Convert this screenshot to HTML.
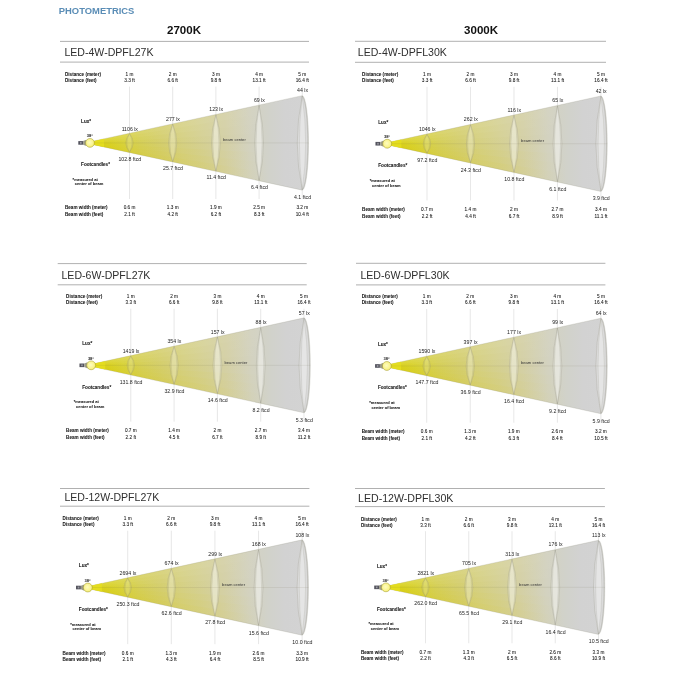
<!DOCTYPE html>
<html lang="en">
<head>
<meta charset="utf-8">
<title>Photometrics</title>
<style>
html,body{margin:0;padding:0;background:#fff;}
body{width:676px;height:676px;overflow:hidden;}
svg{display:block;font-family:"Liberation Sans",sans-serif;}
.b{font-weight:bold;fill:#161616;stroke:#161616;stroke-width:0.06;}
.s{fill:#111;stroke:#111;stroke-width:0.06;}
.c{fill:#333;}
.a{fill:#1a1a1a;font-weight:bold;}
.v{fill:#222;}
.vl{stroke:#c0c0c0;stroke-width:0.38;}
.cl{stroke:#6e6a50;stroke-width:0.35;stroke-opacity:0.3;}
.lens{fill:#fff;stroke:#8c8a7a;stroke-opacity:0.62;stroke-width:0.4;}
.lens2{fill:#fff;stroke:#8c8a7a;stroke-opacity:0.45;stroke-width:0.35;}
.lens3{fill:none;stroke:#8f8a6a;stroke-opacity:0.3;stroke-width:0.35;}
.rule{stroke:#9c9c9c;stroke-width:0.8;}
.title{fill:#2f2f2f;}
</style>
</head>
<body>
<svg width="676" height="676" viewBox="0 0 676 676">
<defs>
<linearGradient id="cone" gradientUnits="userSpaceOnUse" x1="85" y1="0" x2="308.5" y2="0">
<stop offset="0" stop-color="#dcd314"/>
<stop offset="0.094" stop-color="#d9d11e"/>
<stop offset="0.166" stop-color="#d8d238"/>
<stop offset="0.246" stop-color="#d5cf56"/>
<stop offset="0.353" stop-color="#d4ce70"/>
<stop offset="0.434" stop-color="#d5d082"/>
<stop offset="0.559" stop-color="#d4d09a"/>
<stop offset="0.626" stop-color="#d4d0a6"/>
<stop offset="0.738" stop-color="#d3d2c0"/>
<stop offset="0.828" stop-color="#d1d2cb"/>
<stop offset="0.895" stop-color="#d2d2d2"/>
<stop offset="1" stop-color="#d3d3d3"/>
</linearGradient>
<linearGradient id="shT" gradientUnits="userSpaceOnUse" x1="85" y1="0" x2="300" y2="0">
<stop offset="0" stop-color="#fff" stop-opacity="0.16"/>
<stop offset="0.55" stop-color="#fff" stop-opacity="0.12"/>
<stop offset="0.85" stop-color="#fff" stop-opacity="0"/>
</linearGradient>
<linearGradient id="shB" gradientUnits="userSpaceOnUse" x1="85" y1="0" x2="300" y2="0">
<stop offset="0" stop-color="#d6c400" stop-opacity="0.22"/>
<stop offset="0.55" stop-color="#d6c400" stop-opacity="0.16"/>
<stop offset="0.85" stop-color="#d6c400" stop-opacity="0"/>
</linearGradient>
<radialGradient id="bulb" cx="0.45" cy="0.45" r="0.6">
<stop offset="0" stop-color="#fefcc0"/>
<stop offset="0.65" stop-color="#faf48e"/>
<stop offset="1" stop-color="#f4ec68"/>
</radialGradient>
</defs>
<rect width="676" height="676" fill="#fff"/>
<text x="58.8" y="13.8" font-size="9.8" font-weight="bold" fill="#5a8db6" textLength="75.6" lengthAdjust="spacingAndGlyphs">PHOTOMETRICS</text>
<text x="167" y="34" font-size="11.2" font-weight="bold" fill="#111" textLength="34" lengthAdjust="spacingAndGlyphs">2700K</text>
<text x="464.1" y="33.7" font-size="11.2" font-weight="bold" fill="#111" textLength="34" lengthAdjust="spacingAndGlyphs">3000K</text>

<line x1="60" y1="41.4" x2="309" y2="41.4" class="rule"/>
<line x1="60" y1="62.1" x2="309" y2="62.1" class="rule"/>
<text x="64.4" y="56.3" font-size="10.75" class="title" textLength="89.1" lengthAdjust="spacingAndGlyphs">LED-4W-DPFL27K</text>
<g transform="matrix(1.0000 0 0 1.0000 0.00 0.00)">
<line x1="129.5" y1="86.6" x2="129.5" y2="199" class="vl"/>
<line x1="172.7" y1="86.6" x2="172.7" y2="199" class="vl"/>
<line x1="215.9" y1="86.6" x2="215.9" y2="199" class="vl"/>
<line x1="259.1" y1="86.6" x2="259.1" y2="199" class="vl"/>
<line x1="302.25" y1="86.6" x2="302.25" y2="199" class="vl"/>
<path d="M85.0 142.9 L302.25 95.65 A6.3 47.25 0 0 1 302.25 190.15 Z" fill="url(#cone)" stroke="#8c8a7a" stroke-opacity="0.6" stroke-width="0.35"/>
<path d="M85.0 142.9 L300.0 142.9 L300.0 131.21 Z" fill="url(#shT)" fill-opacity="0.12"/>
<path d="M85.0 142.9 L300.0 142.9 L300.0 154.59 Z" fill="url(#shB)" fill-opacity="0.12"/>
<path d="M85.0 142.9 L300.0 131.21 L300.0 119.52 Z" fill="url(#shT)" fill-opacity="0.38"/>
<path d="M85.0 142.9 L300.0 154.59 L300.0 166.28 Z" fill="url(#shB)" fill-opacity="0.38"/>
<path d="M85.0 142.9 L300.0 119.52 L300.0 107.83 Z" fill="url(#shT)" fill-opacity="0.62"/>
<path d="M85.0 142.9 L300.0 166.28 L300.0 177.97 Z" fill="url(#shB)" fill-opacity="0.62"/>
<path d="M85.0 142.9 L300.0 107.83 L300.0 96.14 Z" fill="url(#shT)" fill-opacity="0.88"/>
<path d="M85.0 142.9 L300.0 177.97 L300.0 189.66 Z" fill="url(#shB)" fill-opacity="0.88"/>
<path d="M85.0 142.9 L104.0 138.77 L104.0 147.03 Z" fill="#e4de1e" fill-opacity="0.9"/>
<path d="M129.5 133.62 Q122.1 142.9 129.5 152.18 Q136.9 142.9 129.5 133.62 Z" class="lens" fill-opacity="0.07"/>
<path d="M129.5 133.62 Q124.47 142.9 129.5 152.18 Q134.53 142.9 129.5 133.62 Z" class="lens2" fill-opacity="0.10"/>
<path d="M172.7 124.23 Q164.5 142.9 172.7 161.57 Q180.9 142.9 172.7 124.23 Z" class="lens" fill-opacity="0.13"/>
<path d="M172.7 124.23 Q167.12 142.9 172.7 161.57 Q178.28 142.9 172.7 124.23 Z" class="lens2" fill-opacity="0.18"/>
<path d="M215.9 114.83 Q207.1 142.9 215.9 170.97 Q224.7 142.9 215.9 114.83 Z" class="lens" fill-opacity="0.20"/>
<path d="M215.9 114.83 Q209.92 142.9 215.9 170.97 Q221.88 142.9 215.9 114.83 Z" class="lens2" fill-opacity="0.28"/>
<path d="M259.1 105.43 Q250.3 142.9 259.1 180.37 Q267.9 142.9 259.1 105.43 Z" class="lens" fill-opacity="0.20"/>
<path d="M259.1 105.43 Q253.12 142.9 259.1 180.37 Q265.08 142.9 259.1 105.43 Z" class="lens2" fill-opacity="0.28"/>
<path d="M302.25 96.05 Q292.25 142.9 302.25 189.75 A6.3 47.25 0 0 0 302.25 96.05 Z" class="lens" fill-opacity="0.20"/>
<path d="M302.25 96.05 Q296.65 142.9 302.25 189.75 Q309.05 142.9 302.25 96.05 Z" class="lens2" fill-opacity="0.28"/>
<line x1="94" y1="142.9" x2="308.6" y2="142.9" class="cl"/>
<rect x="78.3" y="141.1" width="4.8" height="3.6" fill="#54545e"/>
<rect x="80.0" y="142.0" width="1.6" height="1.8" fill="#9a9aa0"/>
<path d="M83.1 141.1 L86.4 139.8 L86.4 146.0 L83.1 144.7 Z" fill="#9c9b88"/>
<circle cx="90" cy="142.9" r="4.4" fill="url(#bulb)" stroke="#9c9428" stroke-width="0.5"/>
<text x="65" y="75.85" font-size="4.6" class="b">Distance (meter)</text>
<text x="65" y="82.05" font-size="4.6" class="b">Distance (feet)</text>
<text x="81.1" y="123.05" font-size="4.6" class="b">Lux*</text>
<text x="86.7" y="137.13" font-size="4.0" class="a">38°</text>
<text x="81.1" y="166.15" font-size="4.6" class="b">Footcandles*</text>
<text x="72.6" y="180.73" font-size="4.0" class="b">*measured at</text>
<text x="74.8" y="185.43" font-size="4.0" class="b">center of beam</text>
<text x="65" y="209.45" font-size="4.6" class="b">Beam width (meter)</text>
<text x="65" y="216.15" font-size="4.6" class="b">Beam width (feet)</text>
<text x="223" y="141.37" font-size="4.1" class="c">beam center</text>
<text x="129.5" y="75.88" font-size="4.7" text-anchor="middle" class="s">1 m</text>
<text x="129.5" y="81.98" font-size="4.7" text-anchor="middle" class="s">3.3 ft</text>
<text x="129.8" y="130.56" font-size="5.2" text-anchor="middle" class="v">1106 lx</text>
<text x="129.8" y="161.06" font-size="5.2" text-anchor="middle" class="v">102.8 ftcd</text>
<text x="129.5" y="209.48" font-size="4.7" text-anchor="middle" class="s">0.6 m</text>
<text x="129.5" y="216.18" font-size="4.7" text-anchor="middle" class="s">2.1 ft</text>
<text x="172.7" y="75.88" font-size="4.7" text-anchor="middle" class="s">2 m</text>
<text x="172.7" y="81.98" font-size="4.7" text-anchor="middle" class="s">6.6 ft</text>
<text x="173" y="120.86" font-size="5.2" text-anchor="middle" class="v">277 lx</text>
<text x="173" y="170.46" font-size="5.2" text-anchor="middle" class="v">25.7 ftcd</text>
<text x="172.7" y="209.48" font-size="4.7" text-anchor="middle" class="s">1.3 m</text>
<text x="172.7" y="216.18" font-size="4.7" text-anchor="middle" class="s">4.2 ft</text>
<text x="215.9" y="75.88" font-size="4.7" text-anchor="middle" class="s">3 m</text>
<text x="215.9" y="81.98" font-size="4.7" text-anchor="middle" class="s">9.8 ft</text>
<text x="216.2" y="111.36" font-size="5.2" text-anchor="middle" class="v">123 lx</text>
<text x="216.2" y="179.46" font-size="5.2" text-anchor="middle" class="v">11.4 ftcd</text>
<text x="215.9" y="209.48" font-size="4.7" text-anchor="middle" class="s">1.9 m</text>
<text x="215.9" y="216.18" font-size="4.7" text-anchor="middle" class="s">6.2 ft</text>
<text x="259.1" y="75.88" font-size="4.7" text-anchor="middle" class="s">4 m</text>
<text x="259.1" y="81.98" font-size="4.7" text-anchor="middle" class="s">13.1 ft</text>
<text x="259.4" y="101.76" font-size="5.2" text-anchor="middle" class="v">69 lx</text>
<text x="259.4" y="189.46" font-size="5.2" text-anchor="middle" class="v">6.4 ftcd</text>
<text x="259.1" y="209.48" font-size="4.7" text-anchor="middle" class="s">2.5 m</text>
<text x="259.1" y="216.18" font-size="4.7" text-anchor="middle" class="s">8.3 ft</text>
<text x="302.25" y="75.88" font-size="4.7" text-anchor="middle" class="s">5 m</text>
<text x="302.25" y="81.98" font-size="4.7" text-anchor="middle" class="s">16.4 ft</text>
<text x="302.55" y="92.46" font-size="5.2" text-anchor="middle" class="v">44 lx</text>
<text x="302.55" y="198.86" font-size="5.2" text-anchor="middle" class="v">4.1 ftcd</text>
<text x="302.25" y="209.48" font-size="4.7" text-anchor="middle" class="s">3.2 m</text>
<text x="302.25" y="216.18" font-size="4.7" text-anchor="middle" class="s">10.4 ft</text>
</g>
<line x1="57.7" y1="263.6" x2="306.7" y2="263.6" class="rule"/>
<line x1="57.7" y1="284.8" x2="306.7" y2="284.8" class="rule"/>
<text x="61.5" y="279.4" font-size="10.75" class="title" textLength="88.9" lengthAdjust="spacingAndGlyphs">LED-6W-DPFL27K</text>
<g transform="matrix(1.0026 0 0 1.0045 0.96 221.77)">
<line x1="129.5" y1="86.6" x2="129.5" y2="199" class="vl"/>
<line x1="172.7" y1="86.6" x2="172.7" y2="199" class="vl"/>
<line x1="215.9" y1="86.6" x2="215.9" y2="199" class="vl"/>
<line x1="259.1" y1="86.6" x2="259.1" y2="199" class="vl"/>
<line x1="302.25" y1="86.6" x2="302.25" y2="199" class="vl"/>
<path d="M85.0 142.9 L302.25 95.65 A6.3 47.25 0 0 1 302.25 190.15 Z" fill="url(#cone)" stroke="#8c8a7a" stroke-opacity="0.6" stroke-width="0.35"/>
<path d="M85.0 142.9 L300.0 142.9 L300.0 131.21 Z" fill="url(#shT)" fill-opacity="0.12"/>
<path d="M85.0 142.9 L300.0 142.9 L300.0 154.59 Z" fill="url(#shB)" fill-opacity="0.12"/>
<path d="M85.0 142.9 L300.0 131.21 L300.0 119.52 Z" fill="url(#shT)" fill-opacity="0.38"/>
<path d="M85.0 142.9 L300.0 154.59 L300.0 166.28 Z" fill="url(#shB)" fill-opacity="0.38"/>
<path d="M85.0 142.9 L300.0 119.52 L300.0 107.83 Z" fill="url(#shT)" fill-opacity="0.62"/>
<path d="M85.0 142.9 L300.0 166.28 L300.0 177.97 Z" fill="url(#shB)" fill-opacity="0.62"/>
<path d="M85.0 142.9 L300.0 107.83 L300.0 96.14 Z" fill="url(#shT)" fill-opacity="0.88"/>
<path d="M85.0 142.9 L300.0 177.97 L300.0 189.66 Z" fill="url(#shB)" fill-opacity="0.88"/>
<path d="M85.0 142.9 L104.0 138.77 L104.0 147.03 Z" fill="#e4de1e" fill-opacity="0.9"/>
<path d="M129.5 133.62 Q122.1 142.9 129.5 152.18 Q136.9 142.9 129.5 133.62 Z" class="lens" fill-opacity="0.07"/>
<path d="M129.5 133.62 Q124.47 142.9 129.5 152.18 Q134.53 142.9 129.5 133.62 Z" class="lens2" fill-opacity="0.10"/>
<path d="M172.7 124.23 Q164.5 142.9 172.7 161.57 Q180.9 142.9 172.7 124.23 Z" class="lens" fill-opacity="0.13"/>
<path d="M172.7 124.23 Q167.12 142.9 172.7 161.57 Q178.28 142.9 172.7 124.23 Z" class="lens2" fill-opacity="0.18"/>
<path d="M215.9 114.83 Q207.1 142.9 215.9 170.97 Q224.7 142.9 215.9 114.83 Z" class="lens" fill-opacity="0.20"/>
<path d="M215.9 114.83 Q209.92 142.9 215.9 170.97 Q221.88 142.9 215.9 114.83 Z" class="lens2" fill-opacity="0.28"/>
<path d="M259.1 105.43 Q250.3 142.9 259.1 180.37 Q267.9 142.9 259.1 105.43 Z" class="lens" fill-opacity="0.20"/>
<path d="M259.1 105.43 Q253.12 142.9 259.1 180.37 Q265.08 142.9 259.1 105.43 Z" class="lens2" fill-opacity="0.28"/>
<path d="M302.25 96.05 Q292.25 142.9 302.25 189.75 A6.3 47.25 0 0 0 302.25 96.05 Z" class="lens" fill-opacity="0.20"/>
<path d="M302.25 96.05 Q296.65 142.9 302.25 189.75 Q309.05 142.9 302.25 96.05 Z" class="lens2" fill-opacity="0.28"/>
<line x1="94" y1="142.9" x2="308.6" y2="142.9" class="cl"/>
<rect x="78.3" y="141.1" width="4.8" height="3.6" fill="#54545e"/>
<rect x="80.0" y="142.0" width="1.6" height="1.8" fill="#9a9aa0"/>
<path d="M83.1 141.1 L86.4 139.8 L86.4 146.0 L83.1 144.7 Z" fill="#9c9b88"/>
<circle cx="90" cy="142.9" r="4.4" fill="url(#bulb)" stroke="#9c9428" stroke-width="0.5"/>
<text x="65" y="75.85" font-size="4.6" class="b">Distance (meter)</text>
<text x="65" y="82.05" font-size="4.6" class="b">Distance (feet)</text>
<text x="81.1" y="123.05" font-size="4.6" class="b">Lux*</text>
<text x="86.7" y="137.13" font-size="4.0" class="a">38°</text>
<text x="81.1" y="166.15" font-size="4.6" class="b">Footcandles*</text>
<text x="72.6" y="180.73" font-size="4.0" class="b">*measured at</text>
<text x="74.8" y="185.43" font-size="4.0" class="b">center of beam</text>
<text x="65" y="209.45" font-size="4.6" class="b">Beam width (meter)</text>
<text x="65" y="216.15" font-size="4.6" class="b">Beam width (feet)</text>
<text x="223" y="141.37" font-size="4.1" class="c">beam center</text>
<text x="129.5" y="75.88" font-size="4.7" text-anchor="middle" class="s">1 m</text>
<text x="129.5" y="81.98" font-size="4.7" text-anchor="middle" class="s">3.3 ft</text>
<text x="129.8" y="130.56" font-size="5.2" text-anchor="middle" class="v">1419 lx</text>
<text x="129.8" y="161.06" font-size="5.2" text-anchor="middle" class="v">131.8 ftcd</text>
<text x="129.5" y="209.48" font-size="4.7" text-anchor="middle" class="s">0.7 m</text>
<text x="129.5" y="216.18" font-size="4.7" text-anchor="middle" class="s">2.2 ft</text>
<text x="172.7" y="75.88" font-size="4.7" text-anchor="middle" class="s">2 m</text>
<text x="172.7" y="81.98" font-size="4.7" text-anchor="middle" class="s">6.6 ft</text>
<text x="173" y="120.86" font-size="5.2" text-anchor="middle" class="v">354 lx</text>
<text x="173" y="170.46" font-size="5.2" text-anchor="middle" class="v">32.9 ftcd</text>
<text x="172.7" y="209.48" font-size="4.7" text-anchor="middle" class="s">1.4 m</text>
<text x="172.7" y="216.18" font-size="4.7" text-anchor="middle" class="s">4.5 ft</text>
<text x="215.9" y="75.88" font-size="4.7" text-anchor="middle" class="s">3 m</text>
<text x="215.9" y="81.98" font-size="4.7" text-anchor="middle" class="s">9.8 ft</text>
<text x="216.2" y="111.36" font-size="5.2" text-anchor="middle" class="v">157 lx</text>
<text x="216.2" y="179.46" font-size="5.2" text-anchor="middle" class="v">14.6 ftcd</text>
<text x="215.9" y="209.48" font-size="4.7" text-anchor="middle" class="s">2 m</text>
<text x="215.9" y="216.18" font-size="4.7" text-anchor="middle" class="s">6.7 ft</text>
<text x="259.1" y="75.88" font-size="4.7" text-anchor="middle" class="s">4 m</text>
<text x="259.1" y="81.98" font-size="4.7" text-anchor="middle" class="s">13.1 ft</text>
<text x="259.4" y="101.76" font-size="5.2" text-anchor="middle" class="v">88 lx</text>
<text x="259.4" y="189.46" font-size="5.2" text-anchor="middle" class="v">8.2 ftcd</text>
<text x="259.1" y="209.48" font-size="4.7" text-anchor="middle" class="s">2.7 m</text>
<text x="259.1" y="216.18" font-size="4.7" text-anchor="middle" class="s">8.9 ft</text>
<text x="302.25" y="75.88" font-size="4.7" text-anchor="middle" class="s">5 m</text>
<text x="302.25" y="81.98" font-size="4.7" text-anchor="middle" class="s">16.4 ft</text>
<text x="302.55" y="92.46" font-size="5.2" text-anchor="middle" class="v">57 lx</text>
<text x="302.55" y="198.86" font-size="5.2" text-anchor="middle" class="v">5.3 ftcd</text>
<text x="302.25" y="209.48" font-size="4.7" text-anchor="middle" class="s">3.4 m</text>
<text x="302.25" y="216.18" font-size="4.7" text-anchor="middle" class="s">11.2 ft</text>
</g>
<line x1="60" y1="488.5" x2="309.4" y2="488.5" class="rule"/>
<line x1="60" y1="506.2" x2="309.4" y2="506.2" class="rule"/>
<text x="64.4" y="501.3" font-size="10.75" class="title" textLength="94.8" lengthAdjust="spacingAndGlyphs">LED-12W-DPFL27K</text>
<g transform="matrix(1.0096 0 0 1.0090 -3.04 443.34)">
<line x1="129.5" y1="86.6" x2="129.5" y2="199" class="vl"/>
<line x1="172.7" y1="86.6" x2="172.7" y2="199" class="vl"/>
<line x1="215.9" y1="86.6" x2="215.9" y2="199" class="vl"/>
<line x1="259.1" y1="86.6" x2="259.1" y2="199" class="vl"/>
<line x1="302.25" y1="86.6" x2="302.25" y2="199" class="vl"/>
<path d="M85.0 142.9 L302.25 95.65 A6.3 47.25 0 0 1 302.25 190.15 Z" fill="url(#cone)" stroke="#8c8a7a" stroke-opacity="0.6" stroke-width="0.35"/>
<path d="M85.0 142.9 L300.0 142.9 L300.0 131.21 Z" fill="url(#shT)" fill-opacity="0.12"/>
<path d="M85.0 142.9 L300.0 142.9 L300.0 154.59 Z" fill="url(#shB)" fill-opacity="0.12"/>
<path d="M85.0 142.9 L300.0 131.21 L300.0 119.52 Z" fill="url(#shT)" fill-opacity="0.38"/>
<path d="M85.0 142.9 L300.0 154.59 L300.0 166.28 Z" fill="url(#shB)" fill-opacity="0.38"/>
<path d="M85.0 142.9 L300.0 119.52 L300.0 107.83 Z" fill="url(#shT)" fill-opacity="0.62"/>
<path d="M85.0 142.9 L300.0 166.28 L300.0 177.97 Z" fill="url(#shB)" fill-opacity="0.62"/>
<path d="M85.0 142.9 L300.0 107.83 L300.0 96.14 Z" fill="url(#shT)" fill-opacity="0.88"/>
<path d="M85.0 142.9 L300.0 177.97 L300.0 189.66 Z" fill="url(#shB)" fill-opacity="0.88"/>
<path d="M85.0 142.9 L104.0 138.77 L104.0 147.03 Z" fill="#e4de1e" fill-opacity="0.9"/>
<path d="M129.5 133.62 Q122.1 142.9 129.5 152.18 Q136.9 142.9 129.5 133.62 Z" class="lens" fill-opacity="0.07"/>
<path d="M129.5 133.62 Q124.47 142.9 129.5 152.18 Q134.53 142.9 129.5 133.62 Z" class="lens2" fill-opacity="0.10"/>
<path d="M172.7 124.23 Q164.5 142.9 172.7 161.57 Q180.9 142.9 172.7 124.23 Z" class="lens" fill-opacity="0.13"/>
<path d="M172.7 124.23 Q167.12 142.9 172.7 161.57 Q178.28 142.9 172.7 124.23 Z" class="lens2" fill-opacity="0.18"/>
<path d="M215.9 114.83 Q207.1 142.9 215.9 170.97 Q224.7 142.9 215.9 114.83 Z" class="lens" fill-opacity="0.20"/>
<path d="M215.9 114.83 Q209.92 142.9 215.9 170.97 Q221.88 142.9 215.9 114.83 Z" class="lens2" fill-opacity="0.28"/>
<path d="M259.1 105.43 Q250.3 142.9 259.1 180.37 Q267.9 142.9 259.1 105.43 Z" class="lens" fill-opacity="0.20"/>
<path d="M259.1 105.43 Q253.12 142.9 259.1 180.37 Q265.08 142.9 259.1 105.43 Z" class="lens2" fill-opacity="0.28"/>
<path d="M302.25 96.05 Q292.25 142.9 302.25 189.75 A6.3 47.25 0 0 0 302.25 96.05 Z" class="lens" fill-opacity="0.20"/>
<path d="M302.25 96.05 Q296.65 142.9 302.25 189.75 Q309.05 142.9 302.25 96.05 Z" class="lens2" fill-opacity="0.28"/>
<line x1="94" y1="142.9" x2="308.6" y2="142.9" class="cl"/>
<rect x="78.3" y="141.1" width="4.8" height="3.6" fill="#54545e"/>
<rect x="80.0" y="142.0" width="1.6" height="1.8" fill="#9a9aa0"/>
<path d="M83.1 141.1 L86.4 139.8 L86.4 146.0 L83.1 144.7 Z" fill="#9c9b88"/>
<circle cx="90" cy="142.9" r="4.4" fill="url(#bulb)" stroke="#9c9428" stroke-width="0.5"/>
<text x="65" y="75.85" font-size="4.6" class="b">Distance (meter)</text>
<text x="65" y="82.05" font-size="4.6" class="b">Distance (feet)</text>
<text x="81.1" y="123.05" font-size="4.6" class="b">Lux*</text>
<text x="86.7" y="137.13" font-size="4.0" class="a">38°</text>
<text x="81.1" y="166.15" font-size="4.6" class="b">Footcandles*</text>
<text x="72.6" y="180.73" font-size="4.0" class="b">*measured at</text>
<text x="74.8" y="185.43" font-size="4.0" class="b">center of beam</text>
<text x="65" y="209.45" font-size="4.6" class="b">Beam width (meter)</text>
<text x="65" y="216.15" font-size="4.6" class="b">Beam width (feet)</text>
<text x="223" y="141.37" font-size="4.1" class="c">beam center</text>
<text x="129.5" y="75.88" font-size="4.7" text-anchor="middle" class="s">1 m</text>
<text x="129.5" y="81.98" font-size="4.7" text-anchor="middle" class="s">3.3 ft</text>
<text x="129.8" y="130.56" font-size="5.2" text-anchor="middle" class="v">2694 lx</text>
<text x="129.8" y="161.06" font-size="5.2" text-anchor="middle" class="v">250.3 ftcd</text>
<text x="129.5" y="209.48" font-size="4.7" text-anchor="middle" class="s">0.6 m</text>
<text x="129.5" y="216.18" font-size="4.7" text-anchor="middle" class="s">2.1 ft</text>
<text x="172.7" y="75.88" font-size="4.7" text-anchor="middle" class="s">2 m</text>
<text x="172.7" y="81.98" font-size="4.7" text-anchor="middle" class="s">6.6 ft</text>
<text x="173" y="120.86" font-size="5.2" text-anchor="middle" class="v">674 lx</text>
<text x="173" y="170.46" font-size="5.2" text-anchor="middle" class="v">62.6 ftcd</text>
<text x="172.7" y="209.48" font-size="4.7" text-anchor="middle" class="s">1.3 m</text>
<text x="172.7" y="216.18" font-size="4.7" text-anchor="middle" class="s">4.3 ft</text>
<text x="215.9" y="75.88" font-size="4.7" text-anchor="middle" class="s">3 m</text>
<text x="215.9" y="81.98" font-size="4.7" text-anchor="middle" class="s">9.8 ft</text>
<text x="216.2" y="111.36" font-size="5.2" text-anchor="middle" class="v">299 lx</text>
<text x="216.2" y="179.46" font-size="5.2" text-anchor="middle" class="v">27.8 ftcd</text>
<text x="215.9" y="209.48" font-size="4.7" text-anchor="middle" class="s">1.9 m</text>
<text x="215.9" y="216.18" font-size="4.7" text-anchor="middle" class="s">6.4 ft</text>
<text x="259.1" y="75.88" font-size="4.7" text-anchor="middle" class="s">4 m</text>
<text x="259.1" y="81.98" font-size="4.7" text-anchor="middle" class="s">13.1 ft</text>
<text x="259.4" y="101.76" font-size="5.2" text-anchor="middle" class="v">168 lx</text>
<text x="259.4" y="189.46" font-size="5.2" text-anchor="middle" class="v">15.6 ftcd</text>
<text x="259.1" y="209.48" font-size="4.7" text-anchor="middle" class="s">2.6 m</text>
<text x="259.1" y="216.18" font-size="4.7" text-anchor="middle" class="s">8.5 ft</text>
<text x="302.25" y="75.88" font-size="4.7" text-anchor="middle" class="s">5 m</text>
<text x="302.25" y="81.98" font-size="4.7" text-anchor="middle" class="s">16.4 ft</text>
<text x="302.55" y="92.46" font-size="5.2" text-anchor="middle" class="v">108 lx</text>
<text x="302.55" y="198.86" font-size="5.2" text-anchor="middle" class="v">10.0 ftcd</text>
<text x="302.25" y="209.48" font-size="4.7" text-anchor="middle" class="s">3.3 m</text>
<text x="302.25" y="216.18" font-size="4.7" text-anchor="middle" class="s">10.9 ft</text>
</g>
<line x1="355" y1="41.3" x2="606" y2="41.3" class="rule"/>
<line x1="355" y1="62.3" x2="606" y2="62.3" class="rule"/>
<text x="357.8" y="56.0" font-size="10.75" class="title" textLength="89.1" lengthAdjust="spacingAndGlyphs">LED-4W-DPFL30K</text>
<g transform="matrix(1.0067 0 0 1.0105 296.64 -0.67)">
<line x1="129.5" y1="86.6" x2="129.5" y2="199" class="vl"/>
<line x1="172.7" y1="86.6" x2="172.7" y2="199" class="vl"/>
<line x1="215.9" y1="86.6" x2="215.9" y2="199" class="vl"/>
<line x1="259.1" y1="86.6" x2="259.1" y2="199" class="vl"/>
<line x1="302.25" y1="86.6" x2="302.25" y2="199" class="vl"/>
<path d="M85.0 142.9 L302.25 95.65 A6.3 47.25 0 0 1 302.25 190.15 Z" fill="url(#cone)" stroke="#8c8a7a" stroke-opacity="0.6" stroke-width="0.35"/>
<path d="M85.0 142.9 L300.0 142.9 L300.0 131.21 Z" fill="url(#shT)" fill-opacity="0.12"/>
<path d="M85.0 142.9 L300.0 142.9 L300.0 154.59 Z" fill="url(#shB)" fill-opacity="0.12"/>
<path d="M85.0 142.9 L300.0 131.21 L300.0 119.52 Z" fill="url(#shT)" fill-opacity="0.38"/>
<path d="M85.0 142.9 L300.0 154.59 L300.0 166.28 Z" fill="url(#shB)" fill-opacity="0.38"/>
<path d="M85.0 142.9 L300.0 119.52 L300.0 107.83 Z" fill="url(#shT)" fill-opacity="0.62"/>
<path d="M85.0 142.9 L300.0 166.28 L300.0 177.97 Z" fill="url(#shB)" fill-opacity="0.62"/>
<path d="M85.0 142.9 L300.0 107.83 L300.0 96.14 Z" fill="url(#shT)" fill-opacity="0.88"/>
<path d="M85.0 142.9 L300.0 177.97 L300.0 189.66 Z" fill="url(#shB)" fill-opacity="0.88"/>
<path d="M85.0 142.9 L104.0 138.77 L104.0 147.03 Z" fill="#e4de1e" fill-opacity="0.9"/>
<path d="M129.5 133.62 Q122.1 142.9 129.5 152.18 Q136.9 142.9 129.5 133.62 Z" class="lens" fill-opacity="0.07"/>
<path d="M129.5 133.62 Q124.47 142.9 129.5 152.18 Q134.53 142.9 129.5 133.62 Z" class="lens2" fill-opacity="0.10"/>
<path d="M172.7 124.23 Q164.5 142.9 172.7 161.57 Q180.9 142.9 172.7 124.23 Z" class="lens" fill-opacity="0.13"/>
<path d="M172.7 124.23 Q167.12 142.9 172.7 161.57 Q178.28 142.9 172.7 124.23 Z" class="lens2" fill-opacity="0.18"/>
<path d="M215.9 114.83 Q207.1 142.9 215.9 170.97 Q224.7 142.9 215.9 114.83 Z" class="lens" fill-opacity="0.20"/>
<path d="M215.9 114.83 Q209.92 142.9 215.9 170.97 Q221.88 142.9 215.9 114.83 Z" class="lens2" fill-opacity="0.28"/>
<path d="M259.1 105.43 Q250.3 142.9 259.1 180.37 Q267.9 142.9 259.1 105.43 Z" class="lens" fill-opacity="0.20"/>
<path d="M259.1 105.43 Q253.12 142.9 259.1 180.37 Q265.08 142.9 259.1 105.43 Z" class="lens2" fill-opacity="0.28"/>
<path d="M302.25 96.05 Q292.25 142.9 302.25 189.75 A6.3 47.25 0 0 0 302.25 96.05 Z" class="lens" fill-opacity="0.20"/>
<path d="M302.25 96.05 Q296.65 142.9 302.25 189.75 Q309.05 142.9 302.25 96.05 Z" class="lens2" fill-opacity="0.28"/>
<line x1="94" y1="142.9" x2="308.6" y2="142.9" class="cl"/>
<rect x="78.3" y="141.1" width="4.8" height="3.6" fill="#54545e"/>
<rect x="80.0" y="142.0" width="1.6" height="1.8" fill="#9a9aa0"/>
<path d="M83.1 141.1 L86.4 139.8 L86.4 146.0 L83.1 144.7 Z" fill="#9c9b88"/>
<circle cx="90" cy="142.9" r="4.4" fill="url(#bulb)" stroke="#9c9428" stroke-width="0.5"/>
<text x="65" y="75.85" font-size="4.6" class="b">Distance (meter)</text>
<text x="65" y="82.05" font-size="4.6" class="b">Distance (feet)</text>
<text x="81.1" y="123.05" font-size="4.6" class="b">Lux*</text>
<text x="86.7" y="137.13" font-size="4.0" class="a">38°</text>
<text x="81.1" y="166.15" font-size="4.6" class="b">Footcandles*</text>
<text x="72.6" y="180.73" font-size="4.0" class="b">*measured at</text>
<text x="74.8" y="185.43" font-size="4.0" class="b">center of beam</text>
<text x="65" y="209.45" font-size="4.6" class="b">Beam width (meter)</text>
<text x="65" y="216.15" font-size="4.6" class="b">Beam width (feet)</text>
<text x="223" y="141.37" font-size="4.1" class="c">beam center</text>
<text x="129.5" y="75.88" font-size="4.7" text-anchor="middle" class="s">1 m</text>
<text x="129.5" y="81.98" font-size="4.7" text-anchor="middle" class="s">3.3 ft</text>
<text x="129.8" y="130.56" font-size="5.2" text-anchor="middle" class="v">1046 lx</text>
<text x="129.8" y="161.06" font-size="5.2" text-anchor="middle" class="v">97.2 ftcd</text>
<text x="129.5" y="209.48" font-size="4.7" text-anchor="middle" class="s">0.7 m</text>
<text x="129.5" y="216.18" font-size="4.7" text-anchor="middle" class="s">2.2 ft</text>
<text x="172.7" y="75.88" font-size="4.7" text-anchor="middle" class="s">2 m</text>
<text x="172.7" y="81.98" font-size="4.7" text-anchor="middle" class="s">6.6 ft</text>
<text x="173" y="120.86" font-size="5.2" text-anchor="middle" class="v">262 lx</text>
<text x="173" y="170.46" font-size="5.2" text-anchor="middle" class="v">24.3 ftcd</text>
<text x="172.7" y="209.48" font-size="4.7" text-anchor="middle" class="s">1.4 m</text>
<text x="172.7" y="216.18" font-size="4.7" text-anchor="middle" class="s">4.4 ft</text>
<text x="215.9" y="75.88" font-size="4.7" text-anchor="middle" class="s">3 m</text>
<text x="215.9" y="81.98" font-size="4.7" text-anchor="middle" class="s">9.8 ft</text>
<text x="216.2" y="111.36" font-size="5.2" text-anchor="middle" class="v">116 lx</text>
<text x="216.2" y="179.46" font-size="5.2" text-anchor="middle" class="v">10.8 ftcd</text>
<text x="215.9" y="209.48" font-size="4.7" text-anchor="middle" class="s">2 m</text>
<text x="215.9" y="216.18" font-size="4.7" text-anchor="middle" class="s">6.7 ft</text>
<text x="259.1" y="75.88" font-size="4.7" text-anchor="middle" class="s">4 m</text>
<text x="259.1" y="81.98" font-size="4.7" text-anchor="middle" class="s">13.1 ft</text>
<text x="259.4" y="101.76" font-size="5.2" text-anchor="middle" class="v">65 lx</text>
<text x="259.4" y="189.46" font-size="5.2" text-anchor="middle" class="v">6.1 ftcd</text>
<text x="259.1" y="209.48" font-size="4.7" text-anchor="middle" class="s">2.7 m</text>
<text x="259.1" y="216.18" font-size="4.7" text-anchor="middle" class="s">8.9 ft</text>
<text x="302.25" y="75.88" font-size="4.7" text-anchor="middle" class="s">5 m</text>
<text x="302.25" y="81.98" font-size="4.7" text-anchor="middle" class="s">16.4 ft</text>
<text x="302.55" y="92.46" font-size="5.2" text-anchor="middle" class="v">42 lx</text>
<text x="302.55" y="198.86" font-size="5.2" text-anchor="middle" class="v">3.9 ftcd</text>
<text x="302.25" y="209.48" font-size="4.7" text-anchor="middle" class="s">3.4 m</text>
<text x="302.25" y="216.18" font-size="4.7" text-anchor="middle" class="s">11.1 ft</text>
</g>
<line x1="356.0" y1="263.3" x2="605.4" y2="263.3" class="rule"/>
<line x1="356.0" y1="284.9" x2="605.4" y2="284.9" class="rule"/>
<text x="360.4" y="279.4" font-size="10.75" class="title" textLength="89.2" lengthAdjust="spacingAndGlyphs">LED-6W-DPFL30K</text>
<g transform="matrix(1.0084 0 0 1.0112 296.11 221.47)">
<line x1="129.5" y1="86.6" x2="129.5" y2="199" class="vl"/>
<line x1="172.7" y1="86.6" x2="172.7" y2="199" class="vl"/>
<line x1="215.9" y1="86.6" x2="215.9" y2="199" class="vl"/>
<line x1="259.1" y1="86.6" x2="259.1" y2="199" class="vl"/>
<line x1="302.25" y1="86.6" x2="302.25" y2="199" class="vl"/>
<path d="M85.0 142.9 L302.25 95.65 A6.3 47.25 0 0 1 302.25 190.15 Z" fill="url(#cone)" stroke="#8c8a7a" stroke-opacity="0.6" stroke-width="0.35"/>
<path d="M85.0 142.9 L300.0 142.9 L300.0 131.21 Z" fill="url(#shT)" fill-opacity="0.12"/>
<path d="M85.0 142.9 L300.0 142.9 L300.0 154.59 Z" fill="url(#shB)" fill-opacity="0.12"/>
<path d="M85.0 142.9 L300.0 131.21 L300.0 119.52 Z" fill="url(#shT)" fill-opacity="0.38"/>
<path d="M85.0 142.9 L300.0 154.59 L300.0 166.28 Z" fill="url(#shB)" fill-opacity="0.38"/>
<path d="M85.0 142.9 L300.0 119.52 L300.0 107.83 Z" fill="url(#shT)" fill-opacity="0.62"/>
<path d="M85.0 142.9 L300.0 166.28 L300.0 177.97 Z" fill="url(#shB)" fill-opacity="0.62"/>
<path d="M85.0 142.9 L300.0 107.83 L300.0 96.14 Z" fill="url(#shT)" fill-opacity="0.88"/>
<path d="M85.0 142.9 L300.0 177.97 L300.0 189.66 Z" fill="url(#shB)" fill-opacity="0.88"/>
<path d="M85.0 142.9 L104.0 138.77 L104.0 147.03 Z" fill="#e4de1e" fill-opacity="0.9"/>
<path d="M129.5 133.62 Q122.1 142.9 129.5 152.18 Q136.9 142.9 129.5 133.62 Z" class="lens" fill-opacity="0.07"/>
<path d="M129.5 133.62 Q124.47 142.9 129.5 152.18 Q134.53 142.9 129.5 133.62 Z" class="lens2" fill-opacity="0.10"/>
<path d="M172.7 124.23 Q164.5 142.9 172.7 161.57 Q180.9 142.9 172.7 124.23 Z" class="lens" fill-opacity="0.13"/>
<path d="M172.7 124.23 Q167.12 142.9 172.7 161.57 Q178.28 142.9 172.7 124.23 Z" class="lens2" fill-opacity="0.18"/>
<path d="M215.9 114.83 Q207.1 142.9 215.9 170.97 Q224.7 142.9 215.9 114.83 Z" class="lens" fill-opacity="0.20"/>
<path d="M215.9 114.83 Q209.92 142.9 215.9 170.97 Q221.88 142.9 215.9 114.83 Z" class="lens2" fill-opacity="0.28"/>
<path d="M259.1 105.43 Q250.3 142.9 259.1 180.37 Q267.9 142.9 259.1 105.43 Z" class="lens" fill-opacity="0.20"/>
<path d="M259.1 105.43 Q253.12 142.9 259.1 180.37 Q265.08 142.9 259.1 105.43 Z" class="lens2" fill-opacity="0.28"/>
<path d="M302.25 96.05 Q292.25 142.9 302.25 189.75 A6.3 47.25 0 0 0 302.25 96.05 Z" class="lens" fill-opacity="0.20"/>
<path d="M302.25 96.05 Q296.65 142.9 302.25 189.75 Q309.05 142.9 302.25 96.05 Z" class="lens2" fill-opacity="0.28"/>
<line x1="94" y1="142.9" x2="308.6" y2="142.9" class="cl"/>
<rect x="78.3" y="141.1" width="4.8" height="3.6" fill="#54545e"/>
<rect x="80.0" y="142.0" width="1.6" height="1.8" fill="#9a9aa0"/>
<path d="M83.1 141.1 L86.4 139.8 L86.4 146.0 L83.1 144.7 Z" fill="#9c9b88"/>
<circle cx="90" cy="142.9" r="4.4" fill="url(#bulb)" stroke="#9c9428" stroke-width="0.5"/>
<text x="65" y="75.85" font-size="4.6" class="b">Distance (meter)</text>
<text x="65" y="82.05" font-size="4.6" class="b">Distance (feet)</text>
<text x="81.1" y="123.05" font-size="4.6" class="b">Lux*</text>
<text x="86.7" y="137.13" font-size="4.0" class="a">38°</text>
<text x="81.1" y="166.15" font-size="4.6" class="b">Footcandles*</text>
<text x="72.6" y="180.73" font-size="4.0" class="b">*measured at</text>
<text x="74.8" y="185.43" font-size="4.0" class="b">center of beam</text>
<text x="65" y="209.45" font-size="4.6" class="b">Beam width (meter)</text>
<text x="65" y="216.15" font-size="4.6" class="b">Beam width (feet)</text>
<text x="223" y="141.37" font-size="4.1" class="c">beam center</text>
<text x="129.5" y="75.88" font-size="4.7" text-anchor="middle" class="s">1 m</text>
<text x="129.5" y="81.98" font-size="4.7" text-anchor="middle" class="s">3.3 ft</text>
<text x="129.8" y="130.56" font-size="5.2" text-anchor="middle" class="v">1590 lx</text>
<text x="129.8" y="161.06" font-size="5.2" text-anchor="middle" class="v">147.7 ftcd</text>
<text x="129.5" y="209.48" font-size="4.7" text-anchor="middle" class="s">0.6 m</text>
<text x="129.5" y="216.18" font-size="4.7" text-anchor="middle" class="s">2.1 ft</text>
<text x="172.7" y="75.88" font-size="4.7" text-anchor="middle" class="s">2 m</text>
<text x="172.7" y="81.98" font-size="4.7" text-anchor="middle" class="s">6.6 ft</text>
<text x="173" y="120.86" font-size="5.2" text-anchor="middle" class="v">397 lx</text>
<text x="173" y="170.46" font-size="5.2" text-anchor="middle" class="v">36.9 ftcd</text>
<text x="172.7" y="209.48" font-size="4.7" text-anchor="middle" class="s">1.3 m</text>
<text x="172.7" y="216.18" font-size="4.7" text-anchor="middle" class="s">4.2 ft</text>
<text x="215.9" y="75.88" font-size="4.7" text-anchor="middle" class="s">3 m</text>
<text x="215.9" y="81.98" font-size="4.7" text-anchor="middle" class="s">9.8 ft</text>
<text x="216.2" y="111.36" font-size="5.2" text-anchor="middle" class="v">177 lx</text>
<text x="216.2" y="179.46" font-size="5.2" text-anchor="middle" class="v">16.4 ftcd</text>
<text x="215.9" y="209.48" font-size="4.7" text-anchor="middle" class="s">1.9 m</text>
<text x="215.9" y="216.18" font-size="4.7" text-anchor="middle" class="s">6.3 ft</text>
<text x="259.1" y="75.88" font-size="4.7" text-anchor="middle" class="s">4 m</text>
<text x="259.1" y="81.98" font-size="4.7" text-anchor="middle" class="s">13.1 ft</text>
<text x="259.4" y="101.76" font-size="5.2" text-anchor="middle" class="v">99 lx</text>
<text x="259.4" y="189.46" font-size="5.2" text-anchor="middle" class="v">9.2 ftcd</text>
<text x="259.1" y="209.48" font-size="4.7" text-anchor="middle" class="s">2.6 m</text>
<text x="259.1" y="216.18" font-size="4.7" text-anchor="middle" class="s">8.4 ft</text>
<text x="302.25" y="75.88" font-size="4.7" text-anchor="middle" class="s">5 m</text>
<text x="302.25" y="81.98" font-size="4.7" text-anchor="middle" class="s">16.4 ft</text>
<text x="302.55" y="92.46" font-size="5.2" text-anchor="middle" class="v">64 lx</text>
<text x="302.55" y="198.86" font-size="5.2" text-anchor="middle" class="v">5.9 ftcd</text>
<text x="302.25" y="209.48" font-size="4.7" text-anchor="middle" class="s">3.2 m</text>
<text x="302.25" y="216.18" font-size="4.7" text-anchor="middle" class="s">10.5 ft</text>
</g>
<line x1="355" y1="488.5" x2="604.9" y2="488.5" class="rule"/>
<line x1="355" y1="506.6" x2="604.9" y2="506.6" class="rule"/>
<text x="358.0" y="501.5" font-size="10.75" class="title" textLength="95.4" lengthAdjust="spacingAndGlyphs">LED-12W-DPFL30K</text>
<g transform="matrix(1.0014 0 0 0.9963 295.81 444.98)">
<line x1="129.5" y1="86.6" x2="129.5" y2="199" class="vl"/>
<line x1="172.7" y1="86.6" x2="172.7" y2="199" class="vl"/>
<line x1="215.9" y1="86.6" x2="215.9" y2="199" class="vl"/>
<line x1="259.1" y1="86.6" x2="259.1" y2="199" class="vl"/>
<line x1="302.25" y1="86.6" x2="302.25" y2="199" class="vl"/>
<path d="M85.0 142.9 L302.25 95.65 A6.3 47.25 0 0 1 302.25 190.15 Z" fill="url(#cone)" stroke="#8c8a7a" stroke-opacity="0.6" stroke-width="0.35"/>
<path d="M85.0 142.9 L300.0 142.9 L300.0 131.21 Z" fill="url(#shT)" fill-opacity="0.12"/>
<path d="M85.0 142.9 L300.0 142.9 L300.0 154.59 Z" fill="url(#shB)" fill-opacity="0.12"/>
<path d="M85.0 142.9 L300.0 131.21 L300.0 119.52 Z" fill="url(#shT)" fill-opacity="0.38"/>
<path d="M85.0 142.9 L300.0 154.59 L300.0 166.28 Z" fill="url(#shB)" fill-opacity="0.38"/>
<path d="M85.0 142.9 L300.0 119.52 L300.0 107.83 Z" fill="url(#shT)" fill-opacity="0.62"/>
<path d="M85.0 142.9 L300.0 166.28 L300.0 177.97 Z" fill="url(#shB)" fill-opacity="0.62"/>
<path d="M85.0 142.9 L300.0 107.83 L300.0 96.14 Z" fill="url(#shT)" fill-opacity="0.88"/>
<path d="M85.0 142.9 L300.0 177.97 L300.0 189.66 Z" fill="url(#shB)" fill-opacity="0.88"/>
<path d="M85.0 142.9 L104.0 138.77 L104.0 147.03 Z" fill="#e4de1e" fill-opacity="0.9"/>
<path d="M129.5 133.62 Q122.1 142.9 129.5 152.18 Q136.9 142.9 129.5 133.62 Z" class="lens" fill-opacity="0.07"/>
<path d="M129.5 133.62 Q124.47 142.9 129.5 152.18 Q134.53 142.9 129.5 133.62 Z" class="lens2" fill-opacity="0.10"/>
<path d="M172.7 124.23 Q164.5 142.9 172.7 161.57 Q180.9 142.9 172.7 124.23 Z" class="lens" fill-opacity="0.13"/>
<path d="M172.7 124.23 Q167.12 142.9 172.7 161.57 Q178.28 142.9 172.7 124.23 Z" class="lens2" fill-opacity="0.18"/>
<path d="M215.9 114.83 Q207.1 142.9 215.9 170.97 Q224.7 142.9 215.9 114.83 Z" class="lens" fill-opacity="0.20"/>
<path d="M215.9 114.83 Q209.92 142.9 215.9 170.97 Q221.88 142.9 215.9 114.83 Z" class="lens2" fill-opacity="0.28"/>
<path d="M259.1 105.43 Q250.3 142.9 259.1 180.37 Q267.9 142.9 259.1 105.43 Z" class="lens" fill-opacity="0.20"/>
<path d="M259.1 105.43 Q253.12 142.9 259.1 180.37 Q265.08 142.9 259.1 105.43 Z" class="lens2" fill-opacity="0.28"/>
<path d="M302.25 96.05 Q292.25 142.9 302.25 189.75 A6.3 47.25 0 0 0 302.25 96.05 Z" class="lens" fill-opacity="0.20"/>
<path d="M302.25 96.05 Q296.65 142.9 302.25 189.75 Q309.05 142.9 302.25 96.05 Z" class="lens2" fill-opacity="0.28"/>
<line x1="94" y1="142.9" x2="308.6" y2="142.9" class="cl"/>
<rect x="78.3" y="141.1" width="4.8" height="3.6" fill="#54545e"/>
<rect x="80.0" y="142.0" width="1.6" height="1.8" fill="#9a9aa0"/>
<path d="M83.1 141.1 L86.4 139.8 L86.4 146.0 L83.1 144.7 Z" fill="#9c9b88"/>
<circle cx="90" cy="142.9" r="4.4" fill="url(#bulb)" stroke="#9c9428" stroke-width="0.5"/>
<text x="65" y="75.85" font-size="4.6" class="b">Distance (meter)</text>
<text x="65" y="82.05" font-size="4.6" class="b">Distance (feet)</text>
<text x="81.1" y="123.05" font-size="4.6" class="b">Lux*</text>
<text x="86.7" y="137.13" font-size="4.0" class="a">38°</text>
<text x="81.1" y="166.15" font-size="4.6" class="b">Footcandles*</text>
<text x="72.6" y="180.73" font-size="4.0" class="b">*measured at</text>
<text x="74.8" y="185.43" font-size="4.0" class="b">center of beam</text>
<text x="65" y="209.45" font-size="4.6" class="b">Beam width (meter)</text>
<text x="65" y="216.15" font-size="4.6" class="b">Beam width (feet)</text>
<text x="223" y="141.37" font-size="4.1" class="c">beam center</text>
<text x="129.5" y="75.88" font-size="4.7" text-anchor="middle" class="s">1 m</text>
<text x="129.5" y="81.98" font-size="4.7" text-anchor="middle" class="s">3.3 ft</text>
<text x="129.8" y="130.56" font-size="5.2" text-anchor="middle" class="v">2821 lx</text>
<text x="129.8" y="161.06" font-size="5.2" text-anchor="middle" class="v">262.0 ftcd</text>
<text x="129.5" y="209.48" font-size="4.7" text-anchor="middle" class="s">0.7 m</text>
<text x="129.5" y="216.18" font-size="4.7" text-anchor="middle" class="s">2.2 ft</text>
<text x="172.7" y="75.88" font-size="4.7" text-anchor="middle" class="s">2 m</text>
<text x="172.7" y="81.98" font-size="4.7" text-anchor="middle" class="s">6.6 ft</text>
<text x="173" y="120.86" font-size="5.2" text-anchor="middle" class="v">705 lx</text>
<text x="173" y="170.46" font-size="5.2" text-anchor="middle" class="v">65.5 ftcd</text>
<text x="172.7" y="209.48" font-size="4.7" text-anchor="middle" class="s">1.3 m</text>
<text x="172.7" y="216.18" font-size="4.7" text-anchor="middle" class="s">4.3 ft</text>
<text x="215.9" y="75.88" font-size="4.7" text-anchor="middle" class="s">3 m</text>
<text x="215.9" y="81.98" font-size="4.7" text-anchor="middle" class="s">9.8 ft</text>
<text x="216.2" y="111.36" font-size="5.2" text-anchor="middle" class="v">313 lx</text>
<text x="216.2" y="179.46" font-size="5.2" text-anchor="middle" class="v">29.1 ftcd</text>
<text x="215.9" y="209.48" font-size="4.7" text-anchor="middle" class="s">2 m</text>
<text x="215.9" y="216.18" font-size="4.7" text-anchor="middle" class="s">6.5 ft</text>
<text x="259.1" y="75.88" font-size="4.7" text-anchor="middle" class="s">4 m</text>
<text x="259.1" y="81.98" font-size="4.7" text-anchor="middle" class="s">13.1 ft</text>
<text x="259.4" y="101.76" font-size="5.2" text-anchor="middle" class="v">176 lx</text>
<text x="259.4" y="189.46" font-size="5.2" text-anchor="middle" class="v">16.4 ftcd</text>
<text x="259.1" y="209.48" font-size="4.7" text-anchor="middle" class="s">2.6 m</text>
<text x="259.1" y="216.18" font-size="4.7" text-anchor="middle" class="s">8.6 ft</text>
<text x="302.25" y="75.88" font-size="4.7" text-anchor="middle" class="s">5 m</text>
<text x="302.25" y="81.98" font-size="4.7" text-anchor="middle" class="s">16.4 ft</text>
<text x="302.55" y="92.46" font-size="5.2" text-anchor="middle" class="v">113 lx</text>
<text x="302.55" y="198.86" font-size="5.2" text-anchor="middle" class="v">10.5 ftcd</text>
<text x="302.25" y="209.48" font-size="4.7" text-anchor="middle" class="s">3.3 m</text>
<text x="302.25" y="216.18" font-size="4.7" text-anchor="middle" class="s">10.9 ft</text>
</g>
</svg>
</body>
</html>
